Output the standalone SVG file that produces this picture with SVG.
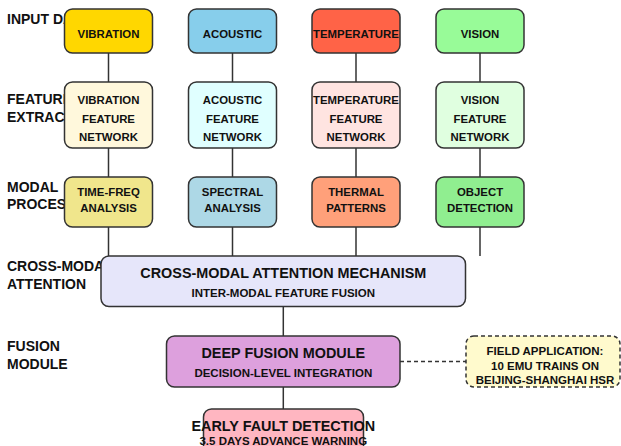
<svg xmlns="http://www.w3.org/2000/svg" width="621" height="446" viewBox="0 0 621 446">
<style>
text{font-family:"Liberation Sans",Arial,sans-serif;font-weight:bold;fill:#111;}
.lbl{font-size:14px;}
.t{font-size:11.4px;text-anchor:middle;}
.big{font-size:14.4px;text-anchor:middle;}
.sub{font-size:11.5px;text-anchor:middle;}
.box{stroke:#333;stroke-width:1.5;}
.ln{stroke:#333;stroke-width:1.5;fill:none;}
</style>
<rect width="621" height="446" fill="#fff"/>
<g id="row-labels">
<text class="lbl" x="7" y="24">INPUT DATA</text>
<text class="lbl" x="7" y="104">FEATURE</text>
<text class="lbl" x="7" y="122">EXTRACTION</text>
<text class="lbl" x="7" y="192">MODAL</text>
<text class="lbl" x="7" y="209">PROCESSING</text>
<text class="lbl" x="7" y="271">CROSS-MODAL</text>
<text class="lbl" x="7" y="289">ATTENTION</text>
<text class="lbl" x="7" y="351">FUSION</text>
<text class="lbl" x="7" y="369">MODULE</text>
</g>
<g id="connectors">
<line class="ln" x1="108.5" y1="53" x2="108.5" y2="256"/>
<line class="ln" x1="232.5" y1="53" x2="232.5" y2="256"/>
<line class="ln" x1="356" y1="53" x2="356" y2="256"/>
<line class="ln" x1="480" y1="53" x2="480" y2="256"/>
<line class="ln" x1="283.3" y1="306" x2="283.3" y2="336"/>
<line class="ln" x1="283.3" y1="387" x2="283.3" y2="409"/>
<line class="ln" x1="400" y1="361.5" x2="466" y2="361.5" stroke-dasharray="4,3"/>
</g>
<g id="input-vibration"><rect class="box" x="64.5" y="9" width="88" height="44" rx="8" fill="#FFD700"/><text class="t" x="108.5" y="38">VIBRATION</text></g>
<g id="input-acoustic"><rect class="box" x="188.5" y="9" width="88" height="44" rx="8" fill="#87CEEB"/><text class="t" x="232.5" y="38">ACOUSTIC</text></g>
<g id="input-temperature"><rect class="box" x="312" y="9" width="88" height="44" rx="8" fill="#FF6347"/><text class="t" x="356" y="38">TEMPERATURE</text></g>
<g id="input-vision"><rect class="box" x="436" y="9" width="88" height="44" rx="8" fill="#98FB98"/><text class="t" x="480" y="38">VISION</text></g>

<g id="feat-vibration"><rect class="box" x="64.5" y="82" width="88" height="66" rx="8" fill="#FFF8DC"/><text class="t" x="108.5" y="104.3">VIBRATION</text><text class="t" x="108.5" y="122.5">FEATURE</text><text class="t" x="108.5" y="140.7">NETWORK</text></g>
<g id="feat-acoustic"><rect class="box" x="188.5" y="82" width="88" height="66" rx="8" fill="#E0FFFF"/><text class="t" x="232.5" y="104.3">ACOUSTIC</text><text class="t" x="232.5" y="122.5">FEATURE</text><text class="t" x="232.5" y="140.7">NETWORK</text></g>
<g id="feat-temperature"><rect class="box" x="312" y="82" width="88" height="66" rx="8" fill="#FFE4E1"/><text class="t" x="356" y="104.3">TEMPERATURE</text><text class="t" x="356" y="122.5">FEATURE</text><text class="t" x="356" y="140.7">NETWORK</text></g>
<g id="feat-vision"><rect class="box" x="436" y="82" width="88" height="66" rx="8" fill="#E0FFE0"/><text class="t" x="480" y="104.3">VISION</text><text class="t" x="480" y="122.5">FEATURE</text><text class="t" x="480" y="140.7">NETWORK</text></g>

<g id="proc-timefreq"><rect class="box" x="64.5" y="177" width="88" height="50" rx="8" fill="#F0E68C"/><text class="t" x="108.5" y="195.7">TIME-FREQ</text><text class="t" x="108.5" y="212.3">ANALYSIS</text></g>
<g id="proc-spectral"><rect class="box" x="188.5" y="177" width="88" height="50" rx="8" fill="#ADD8E6"/><text class="t" x="232.5" y="195.7">SPECTRAL</text><text class="t" x="232.5" y="212.3">ANALYSIS</text></g>
<g id="proc-thermal"><rect class="box" x="312" y="177" width="88" height="50" rx="8" fill="#FFA07A"/><text class="t" x="356" y="195.7">THERMAL</text><text class="t" x="356" y="212.3">PATTERNS</text></g>
<g id="proc-object"><rect class="box" x="436" y="177" width="88" height="50" rx="8" fill="#90EE90"/><text class="t" x="480" y="195.7">OBJECT</text><text class="t" x="480" y="212.3">DETECTION</text></g>

<g id="cross-modal"><rect class="box" x="101" y="256" width="364.5" height="50.5" rx="8" fill="#E6E6FA"/><text class="big" x="283.3" y="278.3">CROSS-MODAL ATTENTION MECHANISM</text><text class="sub" x="283.3" y="296.7">INTER-MODAL FEATURE FUSION</text></g>
<g id="deep-fusion"><rect class="box" x="166.5" y="336" width="233.5" height="51" rx="8" fill="#DDA0DD"/><text class="big" x="283.3" y="358.3">DEEP FUSION MODULE</text><text class="sub" x="283.3" y="376.7">DECISION-LEVEL INTEGRATION</text></g>
<g id="field-application"><rect class="box" x="466" y="336" width="154" height="51" rx="8" fill="#FFFACD" stroke-dasharray="4,3"/><text class="sub" x="545" y="355">FIELD APPLICATION:</text><text class="sub" x="545" y="369.5">10 EMU TRAINS ON</text><text class="sub" x="545" y="384.3">BEIJING-SHANGHAI HSR</text></g>
<g id="early-fault"><rect class="box" x="203.5" y="409" width="160" height="60" rx="8" fill="#FFB6C1"/><text class="big" x="283.3" y="431">EARLY FAULT DETECTION</text><text class="sub" x="283.3" y="445">3.5 DAYS ADVANCE WARNING</text></g>
</svg>
